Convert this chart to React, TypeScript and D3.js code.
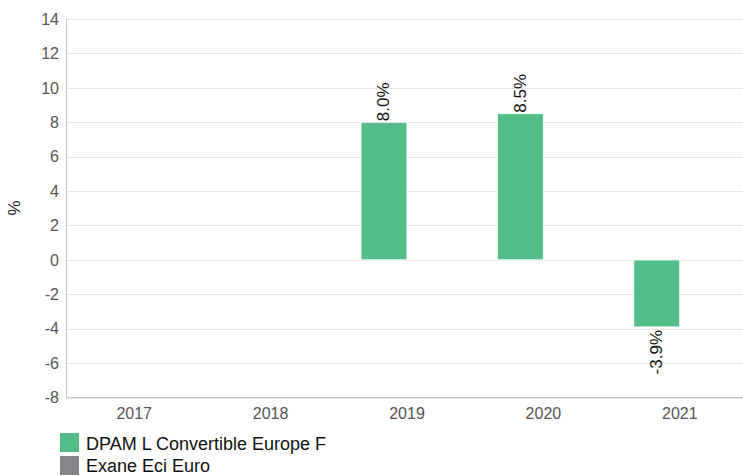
import React from "react";
import * as d3 from "d3";

const categories = ["2017", "2018", "2019", "2020", "2021"];
const seriesNames = ["DPAM L Convertible Europe F", "Exane Eci Euro"];
const fundValues: (number | null)[] = [null, null, 8.0, 8.5, -3.9];
const benchValues: (number | null)[] = [null, null, null, null, null];
const yTicks = [-8, -6, -4, -2, 0, 2, 4, 6, 8, 10, 12, 14];
const seriesColors = ["#52bd86", "#86868a"];

const W = 743;
const H = 476;
const FONT = "'Liberation Sans', Arial, sans-serif";

export default function App() {
  const left = 66;
  const right = 748;
  const top = 19;
  const bottom = 397.5;

  const x = d3.scaleBand<string>().domain(categories).range([left, right]);
  const inner = d3
    .scaleBand<number>()
    .domain([0, 1])
    .range([0, x.bandwidth()])
    .paddingOuter(0.48)
    .paddingInner(0);
  const y = d3.scaleLinear().domain([-8, 14]).range([bottom, top]);

  const series = [fundValues, benchValues];

  return (
    <svg
      width={W}
      height={H}
      style={{ position: "absolute", left: 0, top: 0, background: "#fff" }}
      fontFamily={FONT}
    >
      {yTicks.map((t) => (
        <line
          key={"g" + t}
          x1={left}
          x2={W}
          y1={Math.round(y(t)) + 0.5}
          y2={Math.round(y(t)) + 0.5}
          stroke="#e6e6e6"
          strokeWidth={1}
        />
      ))}
      {yTicks.map((t) => (
        <text
          key={"yt" + t}
          x={left - 7}
          y={y(t)}
          dy="0.36em"
          textAnchor="end"
          fontSize={16}
          fill="#555"
        >
          {t}
        </text>
      ))}
      <line x1={left + 0.5} x2={left + 0.5} y1={top} y2={bottom} stroke="#c8c8c8" />
      <line x1={left} x2={W} y1={bottom} y2={bottom} stroke="#c8c8c8" />
      {categories.map((c) => (
        <text
          key={"xt" + c}
          x={(x(c) as number) + x.bandwidth() / 2}
          y={bottom + 21}
          textAnchor="middle"
          fontSize={16}
          fill="#555"
        >
          {c}
        </text>
      ))}
      <text
        transform={`translate(14,208) rotate(-90)`}
        textAnchor="middle"
        dominantBaseline="central"
        fontSize={17}
        fill="#222"
      >
        %
      </text>
      {series.map((vals, si) =>
        vals.map((v, i) => {
          if (v === null) return null;
          const bx = (x(categories[i]) as number) + (inner(si) as number);
          const bw = inner.bandwidth();
          const y0 = y(0);
          const y1 = y(v);
          const cx = bx + bw / 2;
          return (
            <g key={`b${si}-${i}`}>
              <rect
                x={bx}
                y={Math.min(y0, y1)}
                width={bw}
                height={Math.abs(y1 - y0)}
                fill={seriesColors[si]}
                stroke="#fff"
                strokeWidth={1}
              />
              <text
                transform={`translate(${cx},${v >= 0 ? y1 - 1 : y1 + 3}) rotate(-90)`}
                textAnchor={v >= 0 ? "start" : "end"}
                dominantBaseline="central"
                fontSize={17}
                fill="#111"
              >
                {v.toFixed(1) + "%"}
              </text>
            </g>
          );
        })
      )}
      {seriesNames.map((n, i) => (
        <g key={"l" + i}>
          <rect x={60} y={433 + i * 23} width={19} height={19} fill={seriesColors[i]} />
          <text x={86} y={450 + i * 22} fontSize={18} fill="#111">
            {n}
          </text>
        </g>
      ))}
    </svg>
  );
}
